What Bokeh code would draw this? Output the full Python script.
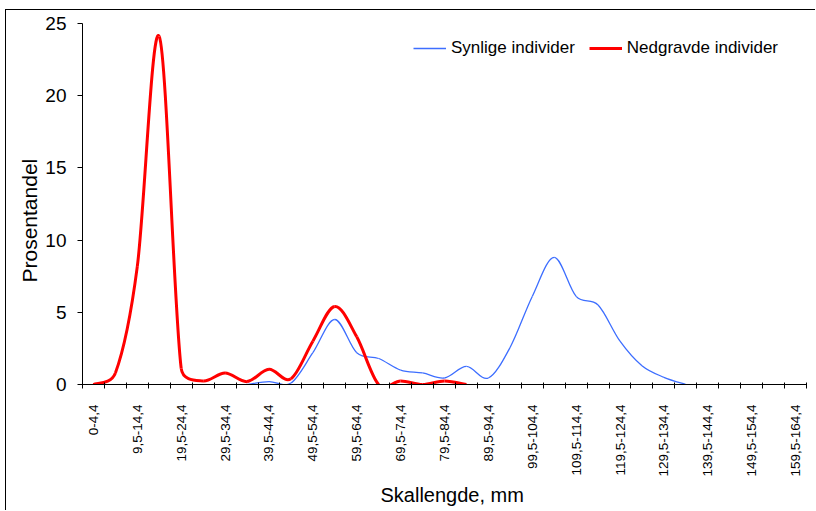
import math
from bokeh.plotting import figure
from bokeh.models import FixedTicker, Range1d, Legend, LegendItem, Title
from bokeh.embed import file_html
from bokeh.resources import INLINE

# ---- data ----
categories = [
    "0-4,4", "4,5-9,4", "9,5-14,4", "14,5-19,4", "19,5-24,4", "24,5-29,4",
    "29,5-34,4", "34,5-39,4", "39,5-44,4", "44,5-49,4", "49,5-54,4", "54,5-59,4",
    "59,5-64,4", "64,5-69,4", "69,5-74,4", "74,5-79,4", "79,5-84,4", "84,5-89,4",
    "89,5-94,4", "94,5-99,4", "99,5-104,4", "104,5-109,4", "109,5-114,4", "114,5-119,4",
    "119,5-124,4", "124,5-129,4", "129,5-134,4", "134,5-139,4", "139,5-144,4", "144,5-149,4",
    "149,5-154,4", "154,5-159,4", "159,5-164,4",
]
# Nedgravde individer: categories 0..17
nedgravde = [0, 0.8, 8.2, 24.1, 1.1, 0.25, 0.8, 0.2, 1.05, 0.4, 3.0, 5.4,
             3.3, 0, 0.25, 0, 0.25, 0]
nedgravde_start = 0
# Synlige individer: categories 7..27
synlige = [0, 0.2, 0.1, 2.2, 4.5, 2.2, 1.8, 1.0, 0.8, 0.45, 1.25, 0.45,
           2.6, 6.1, 8.8, 6.1, 5.5, 3.0, 1.3, 0.5, 0]
synlige_start = 7
y_ticks = [0, 5, 10, 15, 20, 25]
x_title = "Skallengde, mm"
y_title = "Prosentandel"

FONT = "Liberation Sans"
PX_X = 21.94   # approx screen px per category (for smoothing shape only)
PX_Y = 14.44   # approx screen px per percent unit


def smooth_segments(start, vals):
    """Bezier segments through the data points (Excel-style smoothed line)."""
    xs = [start + i + 0.5 for i in range(len(vals))]
    pts = list(zip(xs, vals))
    n = len(pts)

    def dist(a, b):
        return (((a[0] - b[0]) * PX_X) ** 2 + ((a[1] - b[1]) * PX_Y) ** 2) ** 0.5

    seg = dict(x0=[], y0=[], x1=[], y1=[], cx0=[], cy0=[], cx1=[], cy1=[])
    f = 1 / 6
    for i in range(n - 1):
        p0 = pts[i - 1] if i > 0 else pts[i]
        p1 = pts[i]
        p2 = pts[i + 1]
        p3 = pts[i + 2] if i + 2 < n else pts[i + 1]
        d02 = dist(p0, p2)
        d13 = dist(p1, p3)
        d12 = dist(p1, p2)
        f1 = f if d02 * f <= d12 / 2 or d02 == 0 else d12 / (2 * d02)
        f2 = f if d13 * f <= d12 / 2 or d13 == 0 else d12 / (2 * d13)
        seg["x0"].append(p1[0]); seg["y0"].append(p1[1])
        seg["x1"].append(p2[0]); seg["y1"].append(p2[1])
        seg["cx0"].append(p1[0] + (p2[0] - p0[0]) * f1)
        seg["cy0"].append(p1[1] + (p2[1] - p0[1]) * f1)
        seg["cx1"].append(p2[0] - (p3[0] - p1[0]) * f2)
        seg["cy1"].append(p2[1] - (p3[1] - p1[1]) * f2)
    return seg


p = figure(width=810, height=501, output_backend="svg", toolbar_location=None,
           x_range=Range1d(0, len(categories)), y_range=Range1d(0, 25),
           min_border_left=76, min_border_right=10, min_border_top=13,
           min_border_bottom=127)
p.styles = {"margin-left": "5px", "margin-top": "9px",
            "border-left": "1px solid black", "border-top": "1px solid black"}
p.outline_line_color = None
p.grid.grid_line_color = None
p.background_fill_color = "white"
p.border_fill_color = "white"

sb = smooth_segments(synlige_start, synlige)
rb = smooth_segments(nedgravde_start, nedgravde)
r_blue = p.bezier(x0="x0", y0="y0", x1="x1", y1="y1", cx0="cx0", cy0="cy0",
                  cx1="cx1", cy1="cy1", source=sb, line_color="#3D6EFF", line_width=1.3)
r_red = p.bezier(x0="x0", y0="y0", x1="x1", y1="y1", cx0="cx0", cy0="cy0",
                 cx1="cx1", cy1="cy1", source=rb, line_color="#FF0000", line_width=3)

# x axis
centers = [i + 0.5 for i in range(0, len(categories), 2)]
bounds = list(range(0, len(categories) + 1))
xa = p.xaxis[0]
xa.ticker = FixedTicker(ticks=centers, minor_ticks=bounds)
xa.major_label_overrides = {i + 0.5: categories[i] for i in range(0, len(categories), 2)}
xa.major_label_orientation = math.pi / 2
xa.major_tick_in = 0
xa.major_tick_out = 0
xa.minor_tick_in = 2
xa.minor_tick_out = 4
xa.minor_tick_line_color = "black"
xa.major_label_standoff = 16
xa.major_label_text_font = FONT
xa.major_label_text_font_size = "13.5px"
xa.major_label_text_color = "black"
xa.axis_line_color = "black"

ya = p.yaxis[0]
ya.ticker = FixedTicker(ticks=y_ticks)
ya.minor_tick_line_color = None
ya.major_tick_in = 0
ya.major_tick_out = 5
ya.major_tick_line_color = "black"
ya.axis_line_color = "black"
ya.major_label_standoff = 11
ya.major_label_text_font = FONT
ya.major_label_text_font_size = "19px"
ya.major_label_text_color = "black"

# axis titles in the side panels
p.add_layout(Title(text=x_title, align="left", offset=298, standoff=4,
                   text_font=FONT, text_font_size="20px", text_font_style="normal",
                   text_color="black"), "below")
p.add_layout(Title(text=y_title, align="left", offset=102, standoff=3,
                   text_font=FONT, text_font_size="21px", text_font_style="normal",
                   text_color="black"), "left")

legend = Legend(items=[LegendItem(label="Synlige individer", renderers=[r_blue]),
                       LegendItem(label="Nedgravde individer", renderers=[r_red])],
                orientation="horizontal", location=(331, 326),
                glyph_width=33, label_standoff=5, spacing=14, padding=0, margin=0,
                label_text_font=FONT, label_text_font_size="17px",
                label_text_color="black", border_line_color=None,
                background_fill_alpha=0)
p.add_layout(legend)

open("out.html", "w").write(file_html(p, INLINE))
